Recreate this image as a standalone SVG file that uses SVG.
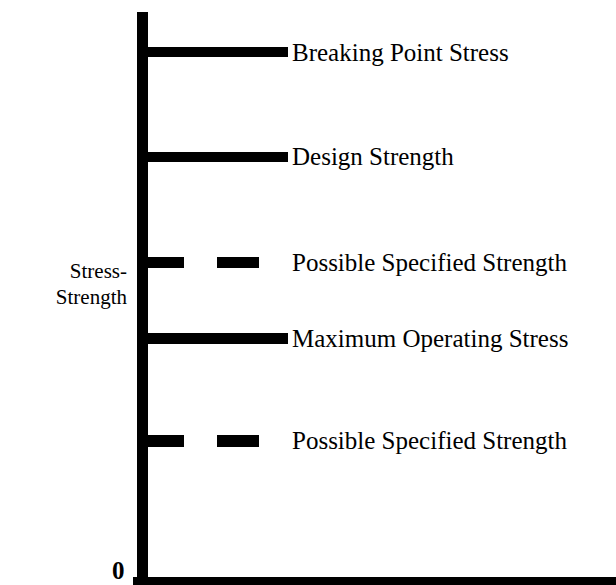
<svg xmlns="http://www.w3.org/2000/svg" width="616" height="585" viewBox="0 0 616 585">
<style>
text{font-family:'Liberation Serif','DejaVu Serif',serif;font-size:25px;fill:#000}
.b{fill:#000}
</style>
<rect width="616" height="585" fill="#fff"/>
<g id="axes">
<rect class="b" x="137" y="12" width="11" height="573"/>
<rect class="b" x="133" y="577" width="483" height="8"/>
</g>
<g id="connectors">
<rect class="b" x="148" y="47" width="140" height="10"/>
<rect class="b" x="148" y="152" width="140" height="10"/>
<rect class="b" x="148" y="257" width="36" height="11"/>
<rect class="b" x="217" y="257" width="42" height="11"/>
<rect class="b" x="148" y="333" width="140" height="11"/>
<rect class="b" x="148" y="435" width="36" height="12"/>
<rect class="b" x="217" y="435" width="42" height="12"/>
</g>
<g font-family="Liberation Serif, DejaVu Serif, serif" font-size="25">
<g id="breaking"><text x="292" y="61">Breaking Point Stress</text></g>
<g id="design"><text x="292" y="165">Design Strength</text></g>
<g id="possible1"><text x="292" y="271">Possible Specified Strength</text></g>
<g id="maxop"><text x="292" y="347">Maximum Operating Stress</text></g>
<g id="possible2"><text x="292" y="449">Possible Specified Strength</text></g>
<g id="ylabel"><text x="127" y="278" text-anchor="end" style="font-size:21px">Stress-</text><text x="127" y="304" text-anchor="end" style="font-size:21px">Strength</text></g>
<g id="zero"><text x="112" y="579" font-weight="bold">0</text></g>
</g>
</svg>
